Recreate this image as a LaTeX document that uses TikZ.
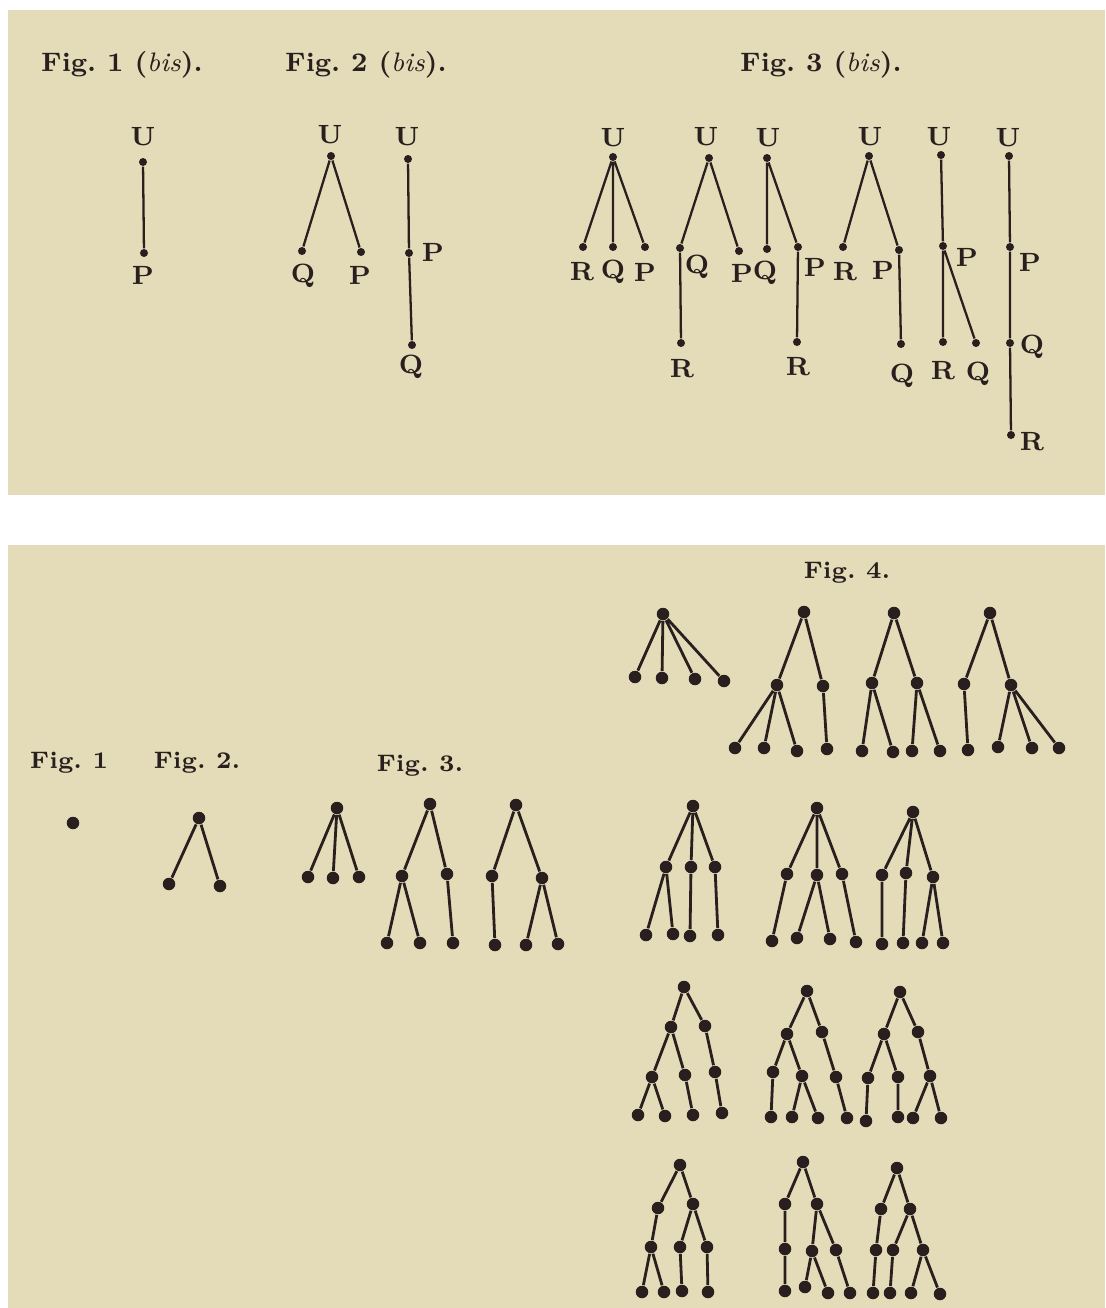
\documentclass[tikz,border=0pt]{standalone}
\usepackage{fontspec}
\usepackage{xcolor}
\usepackage{tikz}

\definecolor{paper}{RGB}{228,220,184}
\definecolor{ink}{RGB}{40,31,30}

\tikzset{
  dot/.style={circle, fill=ink, inner sep=0pt, minimum size=0.08cm},
  bigdot/.style={circle, fill=ink, inner sep=0pt, minimum size=0.125cm},
  letter/.style={text=ink, inner sep=0pt, font=\fontsize{7.5}{9}\selectfont\bfseries},
  figtitle/.style={text=ink, inner sep=0pt, font=\fontsize{7.6}{10}\selectfont\bfseries},
  smalltitle/.style={text=ink, inner sep=0pt, font=\fontsize{6.8}{9}\selectfont\bfseries},
  thinedge/.style={draw=ink, line width=0.65pt},
  thickedge/.style={draw=ink, line width=0.8pt}
}

\begin{document}
\begin{tikzpicture}[x=0.01cm, y=-0.01cm]
    \useasboundingbox (0,0) rectangle (1105,1308);
    \fill[white] (0,0) rectangle (1105,1308);
    \fill[paper] (8,10) rectangle (1105,495);
    \fill[paper] (8,545) rectangle (1105,1308);

    % upper plate
    \node[figtitle] at (122,65) (title1b) {Fig.\ 1 ({\mdseries\itshape bis}).};
    \node[figtitle] at (366,65) (title2b) {Fig.\ 2 ({\mdseries\itshape bis}).};
    \node[figtitle] at (821,65) (title3b) {Fig.\ 3 ({\mdseries\itshape bis}).};

    \node[dot] at (143,162) (au) {};
    \node[dot] at (144,253) (ap) {};
    \node[letter] at (143,137) (aul) {U};
    \node[letter] at (143,275) (apl) {P};
    \draw[thinedge] (au) -- (ap);

    \node[dot] at (331,156) (bu) {};
    \node[dot] at (302,251) (bq) {};
    \node[dot] at (361,252) (bp) {};
    \node[letter] at (330,135) (bul) {U};
    \node[letter] at (303,276) (bql) {Q};
    \node[letter] at (360,275) (bpl) {P};
    \draw[thinedge] (bu) -- (bq) (bu) -- (bp);

    \node[dot] at (408,159) (cu) {};
    \node[dot] at (409,253) (cp) {};
    \node[dot] at (412,345) (cq) {};
    \node[letter] at (407,137) (cul) {U};
    \node[letter] at (433,252) (cpl) {P};
    \node[letter] at (411,367) (cql) {Q};
    \draw[thinedge] (cu) -- (cp) (cp) -- (cq);

    \node[dot] at (613,157) (du) {};
    \node[dot] at (583,247) (dr) {};
    \node[dot] at (613,247) (dq) {};
    \node[dot] at (645,247) (dp) {};
    \node[letter] at (613,138) (dul) {U};
    \node[letter] at (582,272) (drl) {R};
    \node[letter] at (613,272) (dql) {Q};
    \node[letter] at (645,272) (dpl) {P};
    \draw[thinedge] (du) -- (dr) (du) -- (dq) (du) -- (dp);

    \node[dot] at (709,158) (eu) {};
    \node[dot] at (680,248) (eq) {};
    \node[dot] at (739,251) (ep) {};
    \node[dot] at (681,343) (er) {};
    \node[letter] at (706,137) (eul) {U};
    \node[letter] at (697,267) (eql) {Q};
    \node[letter] at (742,273) (epl) {P};
    \node[letter] at (682,369) (erl) {R};
    \draw[thinedge] (eu) -- (eq) (eu) -- (ep) (eq) -- (er);

    \node[dot] at (767,158) (fu) {};
    \node[dot] at (767,249) (fq) {};
    \node[dot] at (798,247) (fp) {};
    \node[dot] at (797,342) (fr) {};
    \node[letter] at (768,138) (ful) {U};
    \node[letter] at (765,273) (fql) {Q};
    \node[letter] at (815,267) (fpl) {P};
    \node[letter] at (798,367) (frl) {R};
    \draw[thinedge] (fu) -- (fq) (fu) -- (fp) (fp) -- (fr);

    \node[dot] at (869,156) (gu) {};
    \node[dot] at (843,247) (gr) {};
    \node[dot] at (899,250) (gp) {};
    \node[dot] at (901,344) (gq) {};
    \node[letter] at (870,137) (gul) {U};
    \node[letter] at (845,272) (grl) {R};
    \node[letter] at (883,270) (gpl) {P};
    \node[letter] at (902,376) (gql) {Q};
    \draw[thinedge] (gu) -- (gr) (gu) -- (gp) (gp) -- (gq);

    \node[dot] at (941,155) (hu) {};
    \node[dot] at (943,246) (hp) {};
    \node[dot] at (943,342) (hr) {};
    \node[dot] at (976,343) (hq) {};
    \node[letter] at (939,137) (hul) {U};
    \node[letter] at (967,257) (hpl) {P};
    \node[letter] at (943,371) (hrl) {R};
    \node[letter] at (978,374) (hql) {Q};
    \draw[thinedge] (hu) -- (hp) (hp) -- (hr) (hp) -- (hq);

    \node[dot] at (1009,156) (iu) {};
    \node[dot] at (1010,247) (ip) {};
    \node[dot] at (1010,343) (iq) {};
    \node[dot] at (1011,435) (ir) {};
    \node[letter] at (1008,138) (iul) {U};
    \node[letter] at (1030,262) (ipl) {P};
    \node[letter] at (1032,347) (iql) {Q};
    \node[letter] at (1032,442) (irl) {R};
    \draw[thinedge] (iu) -- (ip) (ip) -- (iq) (iq) -- (ir);

    % lower plate
    \node[smalltitle] at (69,763) (title1) {Fig.\ 1};
    \node[smalltitle] at (197,763) (title2) {Fig.\ 2.};
    \node[smalltitle] at (420,766) (title3) {Fig.\ 3.};
    \node[smalltitle] at (847,573) (title4) {Fig.\ 4.};

    \node[bigdot] at (73,823) (m) {};

    \node[bigdot] at (199,818) (nr) {};
    \node[bigdot] at (169,884) (na) {};
    \node[bigdot] at (220,886) (nb) {};
    \draw[thickedge] (nr) -- (na) (nr) -- (nb);

    \node[bigdot] at (337,808) (c1r) {};
    \node[bigdot] at (308,877) (c1a) {};
    \node[bigdot] at (333,878) (c1b) {};
    \node[bigdot] at (359,877) (c1c) {};
    \draw[thickedge] (c1r) -- (c1a) (c1r) -- (c1b) (c1r) -- (c1c);

    \node[bigdot] at (430,804) (c2r) {};
    \node[bigdot] at (402,876) (c2a) {};
    \node[bigdot] at (447,874) (c2b) {};
    \node[bigdot] at (387,943) (c2aa) {};
    \node[bigdot] at (420,943) (c2ab) {};
    \node[bigdot] at (453,943) (c2ba) {};
    \draw[thickedge] (c2r) -- (c2a) (c2r) -- (c2b) (c2a) -- (c2aa) (c2a) -- (c2ab) (c2b) -- (c2ba);

    \node[bigdot] at (516,805) (c3r) {};
    \node[bigdot] at (492,876) (c3a) {};
    \node[bigdot] at (542,878) (c3b) {};
    \node[bigdot] at (495,945) (c3aa) {};
    \node[bigdot] at (526,945) (c3ba) {};
    \node[bigdot] at (558,944) (c3bb) {};
    \draw[thickedge] (c3r) -- (c3a) (c3r) -- (c3b) (c3a) -- (c3aa) (c3b) -- (c3ba) (c3b) -- (c3bb);

    \node[bigdot] at (663,614) (d1r) {};
    \node[bigdot] at (635,677) (d1a) {};
    \node[bigdot] at (662,678) (d1b) {};
    \node[bigdot] at (695,679) (d1c) {};
    \node[bigdot] at (724,681) (d1d) {};
    \draw[thickedge] (d1r) -- (d1a) (d1r) -- (d1b) (d1r) -- (d1c) (d1r) -- (d1d);

    \node[bigdot] at (804,612) (d2r) {};
    \node[bigdot] at (777,685) (d2a) {};
    \node[bigdot] at (823,686) (d2b) {};
    \node[bigdot] at (735,748) (d2aa) {};
    \node[bigdot] at (764,748) (d2ab) {};
    \node[bigdot] at (797,751) (d2ac) {};
    \node[bigdot] at (827,749) (d2ba) {};
    \draw[thickedge] (d2r) -- (d2a) (d2r) -- (d2b) (d2a) -- (d2aa) (d2a) -- (d2ab) (d2a) -- (d2ac) (d2b) -- (d2ba);

    \node[bigdot] at (894,613) (d3r) {};
    \node[bigdot] at (872,683) (d3a) {};
    \node[bigdot] at (917,683) (d3b) {};
    \node[bigdot] at (862,751) (d3aa) {};
    \node[bigdot] at (893,752) (d3ab) {};
    \node[bigdot] at (912,751) (d3ba) {};
    \node[bigdot] at (940,751) (d3bb) {};
    \draw[thickedge] (d3r) -- (d3a) (d3r) -- (d3b) (d3a) -- (d3aa) (d3a) -- (d3ab) (d3b) -- (d3ba) (d3b) -- (d3bb);

    \node[bigdot] at (990,613) (d4r) {};
    \node[bigdot] at (964,684) (d4a) {};
    \node[bigdot] at (1011,685) (d4b) {};
    \node[bigdot] at (968,750) (d4aa) {};
    \node[bigdot] at (998,747) (d4ba) {};
    \node[bigdot] at (1032,748) (d4bb) {};
    \node[bigdot] at (1059,748) (d4bc) {};
    \draw[thickedge] (d4r) -- (d4a) (d4r) -- (d4b) (d4a) -- (d4aa) (d4b) -- (d4ba) (d4b) -- (d4bb) (d4b) -- (d4bc);

    \node[bigdot] at (693,806) (d5r) {};
    \node[bigdot] at (666,867) (d5a) {};
    \node[bigdot] at (691,867) (d5b) {};
    \node[bigdot] at (715,867) (d5c) {};
    \node[bigdot] at (646,935) (d5aa) {};
    \node[bigdot] at (673,934) (d5ab) {};
    \node[bigdot] at (690,936) (d5ba) {};
    \node[bigdot] at (718,935) (d5ca) {};
    \draw[thickedge] (d5r) -- (d5a) (d5r) -- (d5b) (d5r) -- (d5c) (d5a) -- (d5aa) (d5a) -- (d5ab) (d5b) -- (d5ba) (d5c) -- (d5ca);

    \node[bigdot] at (817,808) (d6r) {};
    \node[bigdot] at (787,874) (d6a) {};
    \node[bigdot] at (817,875) (d6b) {};
    \node[bigdot] at (842,874) (d6c) {};
    \node[bigdot] at (772,941) (d6aa) {};
    \node[bigdot] at (797,938) (d6ba) {};
    \node[bigdot] at (830,939) (d6bb) {};
    \node[bigdot] at (856,942) (d6ca) {};
    \draw[thickedge] (d6r) -- (d6a) (d6r) -- (d6b) (d6r) -- (d6c) (d6a) -- (d6aa) (d6b) -- (d6ba) (d6b) -- (d6bb) (d6c) -- (d6ca);

    \node[bigdot] at (913,812) (d7r) {};
    \node[bigdot] at (882,875) (d7a) {};
    \node[bigdot] at (906,873) (d7b) {};
    \node[bigdot] at (933,877) (d7c) {};
    \node[bigdot] at (882,944) (d7aa) {};
    \node[bigdot] at (903,943) (d7ba) {};
    \node[bigdot] at (922,943) (d7ca) {};
    \node[bigdot] at (943,943) (d7cb) {};
    \draw[thickedge] (d7r) -- (d7a) (d7r) -- (d7b) (d7r) -- (d7c) (d7a) -- (d7aa) (d7b) -- (d7ba) (d7c) -- (d7ca) (d7c) -- (d7cb);

    \node[bigdot] at (684,987) (d8r) {};
    \node[bigdot] at (671,1027) (d8a) {};
    \node[bigdot] at (705,1026) (d8b) {};
    \node[bigdot] at (652,1077) (d8aa) {};
    \node[bigdot] at (685,1075) (d8ab) {};
    \node[bigdot] at (715,1072) (d8ba) {};
    \node[bigdot] at (638,1115) (d8aaa) {};
    \node[bigdot] at (665,1116) (d8aab) {};
    \node[bigdot] at (693,1115) (d8aba) {};
    \node[bigdot] at (722,1113) (d8baa) {};
    \draw[thickedge] (d8r) -- (d8a) (d8r) -- (d8b) (d8a) -- (d8aa) (d8a) -- (d8ab) (d8b) -- (d8ba)
        (d8aa) -- (d8aaa) (d8aa) -- (d8aab) (d8ab) -- (d8aba) (d8ba) -- (d8baa);

    \node[bigdot] at (807,991) (d9r) {};
    \node[bigdot] at (787,1034) (d9a) {};
    \node[bigdot] at (822,1032) (d9b) {};
    \node[bigdot] at (773,1072) (d9aa) {};
    \node[bigdot] at (802,1076) (d9ab) {};
    \node[bigdot] at (836,1077) (d9ba) {};
    \node[bigdot] at (771,1117) (d9aaa) {};
    \node[bigdot] at (792,1117) (d9aba) {};
    \node[bigdot] at (818,1118) (d9abb) {};
    \node[bigdot] at (847,1118) (d9baa) {};
    \draw[thickedge] (d9r) -- (d9a) (d9r) -- (d9b) (d9a) -- (d9aa) (d9a) -- (d9ab) (d9b) -- (d9ba)
        (d9aa) -- (d9aaa) (d9ab) -- (d9aba) (d9ab) -- (d9abb) (d9ba) -- (d9baa);

    \node[bigdot] at (900,992) (d10r) {};
    \node[bigdot] at (884,1034) (d10a) {};
    \node[bigdot] at (918,1032) (d10b) {};
    \node[bigdot] at (868,1078) (d10aa) {};
    \node[bigdot] at (898,1077) (d10ab) {};
    \node[bigdot] at (930,1076) (d10ba) {};
    \node[bigdot] at (866,1121) (d10aaa) {};
    \node[bigdot] at (898,1117) (d10aba) {};
    \node[bigdot] at (913,1118) (d10baa) {};
    \node[bigdot] at (941,1118) (d10bab) {};
    \draw[thickedge] (d10r) -- (d10a) (d10r) -- (d10b) (d10a) -- (d10aa) (d10a) -- (d10ab) (d10b) -- (d10ba)
        (d10aa) -- (d10aaa) (d10ab) -- (d10aba) (d10ba) -- (d10baa) (d10ba) -- (d10bab);

    \node[bigdot] at (680,1165) (d11r) {};
    \node[bigdot] at (658,1208) (d11a) {};
    \node[bigdot] at (693,1204) (d11b) {};
    \node[bigdot] at (651,1247) (d11aa) {};
    \node[bigdot] at (680,1247) (d11ba) {};
    \node[bigdot] at (707,1247) (d11bb) {};
    \node[bigdot] at (642,1292) (d11aaa) {};
    \node[bigdot] at (664,1292) (d11aab) {};
    \node[bigdot] at (682,1291) (d11baa) {};
    \node[bigdot] at (708,1292) (d11bba) {};
    \draw[thickedge] (d11r) -- (d11a) (d11r) -- (d11b) (d11a) -- (d11aa) (d11b) -- (d11ba) (d11b) -- (d11bb)
        (d11aa) -- (d11aaa) (d11aa) -- (d11aab) (d11ba) -- (d11baa) (d11bb) -- (d11bba);

    \node[bigdot] at (803,1162) (d12r) {};
    \node[bigdot] at (785,1204) (d12a) {};
    \node[bigdot] at (817,1204) (d12b) {};
    \node[bigdot] at (785,1249) (d12aa) {};
    \node[bigdot] at (812,1251) (d12ba) {};
    \node[bigdot] at (836,1250) (d12bb) {};
    \node[bigdot] at (785,1291) (d12aaa) {};
    \node[bigdot] at (805,1287) (d12baa) {};
    \node[bigdot] at (828,1293) (d12bab) {};
    \node[bigdot] at (850,1293) (d12bba) {};
    \draw[thickedge] (d12r) -- (d12a) (d12r) -- (d12b) (d12a) -- (d12aa) (d12b) -- (d12ba) (d12b) -- (d12bb)
        (d12aa) -- (d12aaa) (d12ba) -- (d12baa) (d12ba) -- (d12bab) (d12bb) -- (d12bba);

    \node[bigdot] at (897,1168) (d13r) {};
    \node[bigdot] at (881,1209) (d13a) {};
    \node[bigdot] at (910,1209) (d13b) {};
    \node[bigdot] at (876,1250) (d13aa) {};
    \node[bigdot] at (893,1250) (d13ba) {};
    \node[bigdot] at (923,1250) (d13bb) {};
    \node[bigdot] at (873,1293) (d13aaa) {};
    \node[bigdot] at (890,1293) (d13baa) {};
    \node[bigdot] at (911,1293) (d13bba) {};
    \node[bigdot] at (940,1294) (d13bbb) {};
    \draw[thickedge] (d13r) -- (d13a) (d13r) -- (d13b) (d13a) -- (d13aa) (d13b) -- (d13ba) (d13b) -- (d13bb)
        (d13aa) -- (d13aaa) (d13ba) -- (d13baa) (d13bb) -- (d13bba) (d13bb) -- (d13bbb);
\end{tikzpicture}
\end{document}
